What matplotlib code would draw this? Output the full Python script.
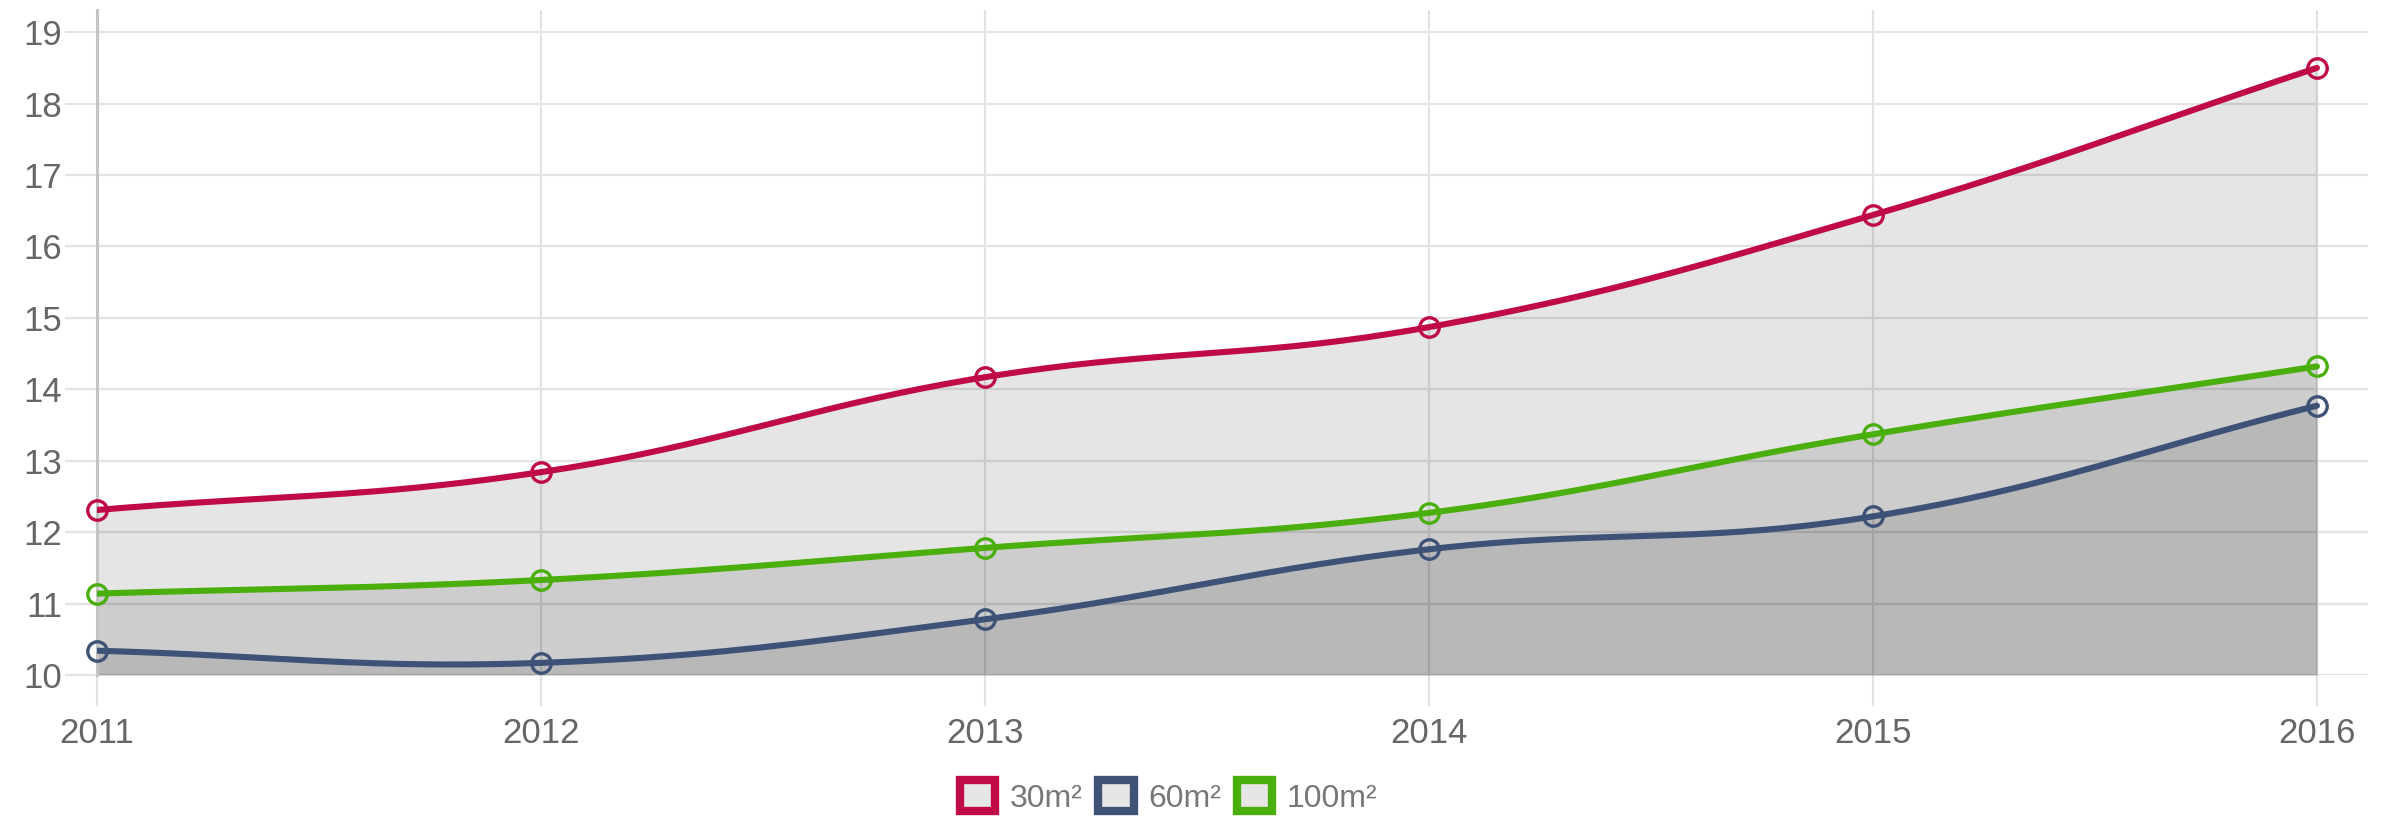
import matplotlib
matplotlib.use("Agg")
import matplotlib.pyplot as plt
from matplotlib.patches import Patch
import numpy as np

plt.rcParams['font.family'] = ['Liberation Sans', 'DejaVu Sans']

years = [2011, 2012, 2013, 2014, 2015, 2016]
series_labels = ['30m²', '60m²', '100m²']
price_30 = [12.31, 12.84, 14.17, 14.87, 16.44, 18.50]
price_60 = [10.34, 10.17, 10.78, 11.76, 12.22, 13.77]
price_100 = [11.14, 11.33, 11.78, 12.27, 13.37, 14.32]
series_colors = ['#bf0a46', '#3e5277', '#4aae0c']

# pixel scale used by the bezier smoothing (like chart.js tension 0.4)
PX_X, PX_Y = 444.0, 71.4
TENSION = 0.4


def smooth(xs, ys, n=40):
    px = np.array(xs, float) * PX_X
    py = np.array(ys, float) * PX_Y
    pts = np.column_stack([px, py])
    m = len(pts)
    prev_c, next_c = [], []
    for i in range(m):
        a = pts[i - 1] if i > 0 else pts[i]
        b = pts[i]
        c = pts[i + 1] if i < m - 1 else pts[i]
        d01 = np.hypot(*(b - a))
        d12 = np.hypot(*(c - b))
        tot = d01 + d12
        s01 = d01 / tot if tot else 0
        s12 = d12 / tot if tot else 0
        prev_c.append(b - TENSION * s01 * (c - a))
        next_c.append(b + TENSION * s12 * (c - a))
    t = np.linspace(0, 1, n)[:, None]
    out = []
    for i in range(m - 1):
        p0, p1, p2, p3 = pts[i], next_c[i], prev_c[i + 1], pts[i + 1]
        seg = ((1 - t) ** 3) * p0 + 3 * ((1 - t) ** 2) * t * p1 + 3 * (1 - t) * t ** 2 * p2 + t ** 3 * p3
        out.append(seg if i == 0 else seg[1:])
    out = np.vstack(out)
    return out[:, 0] / PX_X, out[:, 1] / PX_Y


fig = plt.figure(figsize=(23.85, 8.23), dpi=100)
ax = fig.add_axes([97 / 2385, 1 - 675 / 823, (2368 - 97) / 2385, (675 - 10) / 823])

ax.set_xlim(2011, 2016.115)
ax.set_ylim(10, 19.31)
ax.set_xticks(years)
ax.set_yticks(range(10, 20))

grid_c = '#e3e3e3'
ax.set_axisbelow(True)
ax.grid(True, color=grid_c, linewidth=1.6)
for s in ['top', 'right', 'bottom']:
    ax.spines[s].set_visible(False)
ax.spines['left'].set_color('#c4c4c4')
ax.spines['left'].set_linewidth(2.2)
ax.tick_params(axis='both', colors=grid_c, width=1.6, labelcolor='#666666', labelsize=25)
ax.tick_params(axis='y', length=23, pad=2)
ax.tick_params(axis='x', length=22, pad=8)

all_series = [price_30, price_60, price_100]
for ys, col in zip(all_series, series_colors):
    sx, sy = smooth(years, ys)
    ax.fill_between(sx, sy, 10, color='black', alpha=0.1, lw=0, zorder=1)
    ax.plot(sx, sy, color=col, lw=4.4, zorder=3, solid_capstyle='round')
    ax.plot(years, ys, ls='none', marker='o', ms=14, mfc='none', mec=col, mew=2.4,
            zorder=4, clip_on=False)

handles = [Patch(facecolor='#e6e6e6', edgecolor=c, linewidth=6) for c in series_colors]
leg = fig.legend(handles, series_labels, loc='center', bbox_to_anchor=(0.5 - 24 / 2385, 1 - 797 / 823),
                 ncol=3, frameon=False, fontsize=23, handlelength=1.1, handleheight=1.1,
                 handletextpad=0.45, columnspacing=0.5, borderpad=0)
for t in leg.get_texts():
    t.set_color('#777777')

fig.savefig('out.png', dpi=100)
